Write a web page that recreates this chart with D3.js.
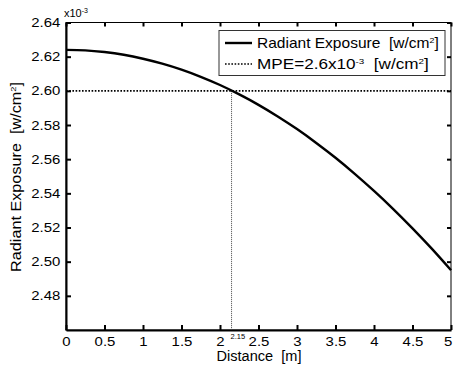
<!DOCTYPE html>
<html>
<head>
<meta charset="utf-8">
<script src="https://cdn.jsdelivr.net/npm/d3@7"></script>
<style>
  body { margin: 0; background: #fff; }
  svg { display: block; font-family: "Liberation Sans", Arial, sans-serif; }
</style>
</head>
<body>
<div id="chart"></div>
<script>
// distance in m, exposure in units of 1e-3 w/cm^2
const distance = [0, 0.25, 0.5, 0.75, 1, 1.25, 1.5, 1.75, 2, 2.25, 2.5,
  2.75, 3, 3.25, 3.5, 3.75, 4, 4.25, 4.5, 4.75, 5]
const exposure = [2.6240, 2.6237, 2.6227, 2.6211, 2.6188, 2.6159, 2.6124, 2.6082,
  2.6034, 2.5979, 2.5918, 2.5850, 2.5776, 2.5695, 2.5608, 2.5514, 2.5414,
  2.5308, 2.5195, 2.5076, 2.4950]
const mpe = 2.60
const crossAt = 2.15
const xTicks = [0, 0.5, 1, 1.5, 2, 2.5, 3, 3.5, 4, 4.5, 5]
const yTicks = [2.48, 2.50, 2.52, 2.54, 2.56, 2.58, 2.60, 2.62, 2.64]
const legendLabels = ['Radiant Exposure  [w/cm', 'MPE=2.6x10']

const W = 453, H = 369
const svg = d3.select('#chart').append('svg')
  .attr('width', W)
  .attr('height', H)

const x = d3.scaleLinear().domain([0, 5]).range([66, 451])
const y = d3.scaleLinear().domain([2.46, 2.64]).range([330, 22.5])

const stretch = 'scale(1.15,1)'

// squeeze/stretch a text along its own direction to a given length
function fitText(t, len, cx) {
  const w = t.node().getComputedTextLength()
  const s = len / w
  const old = t.attr('transform') || ''
  t.attr('transform', `${old} translate(${cx},0) scale(${s},1) translate(${-cx},0)`)
}

// box
svg.append('rect')
  .attr('x', x(0)).attr('y', y(2.64))
  .attr('width', x(5) - x(0)).attr('height', y(2.46) - y(2.64))
  .attr('fill', 'none').attr('stroke', '#000').attr('stroke-width', 1)

// bottom axis
const gx = svg.append('g')
  .attr('transform', `translate(0,${y(2.46)})`)
  .call(d3.axisBottom(x).tickValues(xTicks).tickFormat(d3.format('~g'))
    .tickSizeInner(-5).tickSizeOuter(0).tickPadding(7))
gx.select('.domain').attr('stroke-width', 2)
gx.selectAll('.tick line').attr('stroke-width', 2)
gx.selectAll('text').attr('font-size', 13).attr('fill', '#000').attr('transform', stretch)
// last label sits right at the window edge
gx.selectAll('text').filter(d => d === 5).attr('dx', -3)

// top ticks
svg.append('g')
  .attr('transform', `translate(0,${y(2.64)})`)
  .call(d3.axisTop(x).tickValues(xTicks).tickFormat('').tickSizeInner(-4).tickSizeOuter(0))
  .call(g => g.select('.domain').remove())
  .selectAll('.tick line').attr('stroke-width', 2)

// left axis
const gy = svg.append('g')
  .attr('transform', `translate(${x(0)},0)`)
  .call(d3.axisLeft(y).tickValues(yTicks).tickFormat(d3.format('.2f'))
    .tickSizeInner(-5).tickSizeOuter(0).tickPadding(5))
gy.select('.domain').attr('stroke-width', 2)
gy.selectAll('.tick line').attr('stroke-width', 2)
gy.selectAll('text').attr('font-size', 13).attr('fill', '#000').attr('transform', stretch)

// right ticks
svg.append('g')
  .attr('transform', `translate(${x(5)},0)`)
  .call(d3.axisRight(y).tickValues(yTicks).tickFormat('').tickSizeInner(-4).tickSizeOuter(0))
  .call(g => g.select('.domain').remove())
  .selectAll('.tick line').attr('stroke-width', 2)

// exponent
const ex = svg.append('text')
  .attr('x', 64).attr('y', 17)
  .attr('font-size', 11)
ex.append('tspan').text('x10')
ex.append('tspan').attr('font-size', 7).attr('dy', -4).text('-3')

// MPE line
svg.append('line')
  .attr('x1', x(0)).attr('x2', x(5))
  .attr('y1', y(mpe)).attr('y2', y(mpe))
  .attr('stroke', '#000').attr('stroke-width', 1.6)
  .attr('stroke-dasharray', '1.6,1.6')

// crossing line
svg.append('line')
  .attr('x1', x(crossAt)).attr('x2', x(crossAt))
  .attr('y1', y(mpe)).attr('y2', y(2.46))
  .attr('stroke', '#444').attr('stroke-width', 1)
  .attr('stroke-dasharray', '1,1')

svg.append('text')
  .attr('x', x(crossAt) - 1).attr('y', 339)
  .attr('font-size', 7.5)
  .text(d3.format('.2f')(crossAt))

// curve
const line = d3.line()
  .x((d, i) => x(distance[i]))
  .y(d => y(d))
  .curve(d3.curveMonotoneX)

svg.append('path')
  .datum(exposure)
  .attr('d', line)
  .attr('fill', 'none')
  .attr('stroke', '#000')
  .attr('stroke-width', 2.4)

// legend
const lg = svg.append('g')
lg.append('rect')
  .attr('x', 219).attr('y', 30.5)
  .attr('width', 226).attr('height', 45)
  .attr('fill', '#fff').attr('stroke', '#333').attr('stroke-width', 1)

lg.append('line')
  .attr('x1', 225).attr('x2', 252).attr('y1', 43).attr('y2', 43)
  .attr('stroke', '#000').attr('stroke-width', 2.4)
lg.append('line')
  .attr('x1', 225).attr('x2', 252).attr('y1', 64).attr('y2', 64)
  .attr('stroke', '#000').attr('stroke-width', 1.6)
  .attr('stroke-dasharray', '1.6,1.6')

const t1 = lg.append('text')
  .attr('x', 257).attr('y', 48)
  .attr('font-size', 14)
t1.append('tspan').attr('xml:space', 'preserve').text(legendLabels[0])
t1.append('tspan').attr('font-size', 8).attr('dy', -5).text('2')
t1.append('tspan').attr('dy', 5).text(']')
fitText(t1, 182, 257)

const t2 = lg.append('text')
  .attr('x', 257).attr('y', 69)
  .attr('font-size', 14)
t2.append('tspan').text(legendLabels[1])
t2.append('tspan').attr('font-size', 8).attr('dy', -5).text('-3')
t2.append('tspan').attr('dy', 5).attr('xml:space', 'preserve').text('  [w/cm')
t2.append('tspan').attr('font-size', 8).attr('dy', -5).text('2')
t2.append('tspan').attr('dy', 5).text(']')
fitText(t2, 172, 257)

// axis titles
const xl = svg.append('text')
  .attr('x', 259).attr('y', 361)
  .attr('text-anchor', 'middle')
  .attr('font-size', 14)
  .attr('xml:space', 'preserve')
  .text('Distance  [m]')
fitText(xl, 85, 259)

const yl = svg.append('text')
  .attr('transform', 'translate(21,177) rotate(-90)')
  .attr('text-anchor', 'middle')
  .attr('font-size', 14)
yl.append('tspan').attr('xml:space', 'preserve').text('Radiant Exposure  [w/cm')
yl.append('tspan').attr('font-size', 8).attr('dy', -5).text('2')
yl.append('tspan').attr('dy', 5).text(']')
fitText(yl, 190, 0)
</script>
</body>
</html>
